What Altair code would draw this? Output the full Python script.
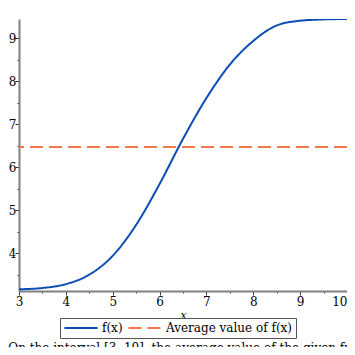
import altair as alt
import pandas as pd

# curve f(x)
xs = [3.0, 3.5, 4.0, 4.5, 5.0, 5.5, 6.0, 6.5, 7.0, 7.5, 8.0, 8.5, 9.0, 9.5, 10.0]
ys = [3.16, 3.19, 3.28, 3.50, 3.94, 4.66, 5.61, 6.66, 7.61, 8.39, 8.94, 9.30, 9.41, 9.44, 9.45]
avg_value = 6.47
series_names = ["f(x)", "Average value of f(x)"]
x_ticks = [3, 3.5, 4, 4.5, 5, 5.5, 6, 6.5, 7, 7.5, 8, 8.5, 9, 9.5, 10]
y_ticks = [3.5, 4, 4.5, 5, 5.5, 6, 6.5, 7, 7.5, 8, 8.5, 9]
caption = "On the interval [3, 10], the average value of the given function is 6.47."

curve = pd.DataFrame({"x": xs, "y": ys, "s": series_names[0]})
avg = pd.DataFrame({"y": [avg_value], "s": [series_names[1]]})

FONT = "DejaVu Serif"

color = alt.Color(
    "s:N",
    scale=alt.Scale(domain=series_names, range=["#0a4db4", "#f0784a"]),
    legend=alt.Legend(
        title=None,
        orient="none",
        legendX=41,
        legendY=299,
        direction="horizontal",
        symbolType="stroke",
        symbolSize=1100,
        symbolStrokeWidth=2,
        clipHeight=14,
        labelFont=FONT,
        labelFontSize=12,
        labelColor="#000",
        labelOffset=3,
        columnPadding=4,
        padding=3,
        strokeColor="#555",
    ),
)
dash = alt.StrokeDash(
    "s:N",
    scale=alt.Scale(domain=series_names, range=[[1, 0], [13, 6]]),
    legend=None,
)

half = "datum.value % 1 === 0"
lab = f"{half} ? format(datum.value, 'd') : ''"

xenc = alt.X(
    "x:Q",
    scale=alt.Scale(domain=[3, 10], nice=False, zero=False),
    axis=alt.Axis(
        values=x_ticks,
        labelExpr=lab,
        title="x",
        titleFont=FONT,
        titleFontStyle="italic",
        titleFontWeight="normal",
        titleFontSize=11,
        titlePadding=2,
        labelFont=FONT,
        labelFontSize=12,
        labelColor="#000",
        labelPadding=1,
        labelFlush=False,
        labelAlign={"condition": {"test": "datum.value === 10", "value": "right"}, "value": "center"},
        tickSize={"condition": {"test": half, "value": 4}, "value": 2},
        tickColor="#333",
        domainColor="#808080",
        domainWidth=2,
        grid=False,
    ),
)

yscale = alt.Scale(domain=[3.12, 9.45], nice=False, zero=False)
yaxis = alt.Axis(
    values=y_ticks,
    labelExpr=lab,
    title=None,
    labelFont=FONT,
    labelFontSize=12,
    labelColor="#000",
    labelPadding=-1,
    tickSize={"condition": {"test": half, "value": 4}, "value": 2},
    tickColor="#333",
    domainColor="#808080",
    domainWidth=2,
    grid=False,
)

line = alt.Chart(curve).mark_line(strokeWidth=2, interpolate="monotone", clip=True).encode(
    x=xenc,
    y=alt.Y("y:Q", scale=yscale, axis=yaxis),
    color=color,
    strokeDash=dash,
)

rule = alt.Chart(avg).mark_rule(strokeWidth=2).encode(
    y=alt.Y("y:Q", scale=yscale, axis=yaxis),
    color=color,
    strokeDash=dash,
)

chart = (
    alt.layer(line, rule)
    .properties(
        width=328,
        height=272,
        autosize=alt.AutoSizeParams(type="none"),
        padding={"left": 11, "top": 11, "right": 0, "bottom": 56},
        title=alt.TitleParams(
            caption,
            orient="bottom",
            anchor="start",
            dx=0,
            offset=4,
            font=FONT,
            fontSize=12,
            fontWeight="normal",
            color="#000",
        ),
    )
    .configure_view(stroke=None)
)

chart.save("out.html", embed_options={"renderer": "svg", "actions": False})
